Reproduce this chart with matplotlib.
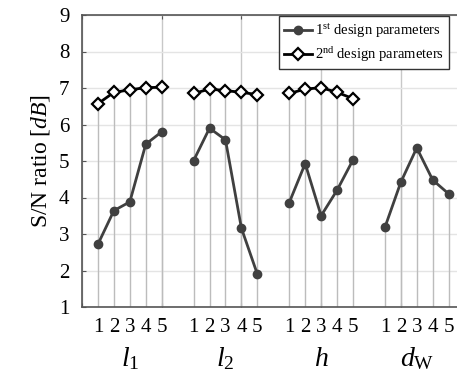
import matplotlib
matplotlib.use('Agg')
import matplotlib.pyplot as plt
import matplotlib.transforms as mtransforms

plt.rcParams['font.family'] = ['Liberation Serif', 'DejaVu Serif']
plt.rcParams['mathtext.fontset'] = 'custom'
plt.rcParams['mathtext.rm'] = 'Liberation Serif'
plt.rcParams['mathtext.it'] = 'Liberation Serif:italic'

# data
groups = ['$l_1$', '$l_2$', '$h$', '$d_{\\mathrm{W}}$']
levels = ['1', '2', '3', '4', '5']
first_l1 = [2.72, 3.64, 3.88, 5.46, 5.80]
first_l2 = [5.01, 5.90, 5.58, 3.16, 1.90]
first_h = [3.86, 4.93, 3.50, 4.20, 5.03]
first_dw = [3.18, 4.42, 5.36, 4.48, 4.10]
second_l1 = [6.57, 6.88, 6.95, 7.01, 7.02]
second_l2 = [6.85, 6.97, 6.93, 6.88, 6.82]
second_h = [6.85, 6.97, 7.01, 6.88, 6.71]

first = [first_l1, first_l2, first_h, first_dw]
second = [second_l1, second_l2, second_h, None]

fig = plt.figure(figsize=(4.57, 3.77), dpi=100)
ax = fig.add_axes([82/457, 1 - 307/377, (463 - 82)/457, (307 - 15)/377])

gray_line = '#404040'
stem_col = '#bcbcbc'

for g in range(4):
    xs = [6*g + i + 1 for i in range(5)]
    y1 = first[g]
    y2 = second[g]
    for i, x in enumerate(xs):
        top = y1[i] if y2 is None else max(y1[i], y2[i])
        ax.plot([x, x], [1, top], color=stem_col, lw=1.0, zorder=1)
    l1, = ax.plot(xs, y1, '-o', color=gray_line, lw=2.0, ms=6, zorder=3,
                  label='1$^{\\mathrm{st}}$ design parameters')
    if y2 is not None:
        l2, = ax.plot(xs, y2, '-D', color='black', lw=2.0, ms=6.5, mfc='white',
                      mec='black', mew=1.6, zorder=4,
                      label='2$^{\\mathrm{nd}}$ design parameters')

ax.set_xlim(0, 23.9)
ax.set_ylim(1, 9)
ax.set_yticks(range(1, 10))
ax.set_xticks([0, 5, 10, 15, 20])
ax.set_xticklabels([])
ax.xaxis.remove_overlapping_locs = False
ax.set_xticks([6*g + i + 1 for g in range(4) for i in range(5)], minor=True)
ax.set_xticklabels(levels * 4, minor=True)
ax.tick_params(axis='x', which='minor', length=0, labelsize=15, pad=8)
ax.tick_params(axis='x', which='major', direction='in', length=3, top=True,
               color='#555555')
ax.tick_params(axis='y', direction='in', length=3, labelsize=15, pad=9,
               color='#555555')
ax.grid(True, which='major', axis='y', color='#e4e4e4', lw=1.0, zorder=0)
ax.grid(True, which='major', axis='x', color='#c8c8c8', lw=1.0, zorder=0)
ax.set_axisbelow(True)
for s in ax.spines.values():
    s.set_color('#555555')
    s.set_linewidth(1.2)

trans = mtransforms.blended_transform_factory(ax.transData, fig.transFigure)
for g, name in enumerate(groups):
    ax.text(6*g + 3, 1 - 359/377, name, transform=trans, ha='center',
            va='center', fontsize=20)

ax.set_ylabel('S/N ratio [$dB$]', fontsize=17, labelpad=5)

leg = ax.legend(handles=[l1, l2], loc='upper left', bbox_to_anchor=(0.514, 1.0),
                borderaxespad=0.1, fontsize=10.5, fancybox=False,
                edgecolor='#333333', framealpha=1, handlelength=1.9,
                handletextpad=0.2, borderpad=0.35, labelspacing=0.35)
leg.get_frame().set_linewidth(1.0)

fig.savefig('out.png', dpi=100)
